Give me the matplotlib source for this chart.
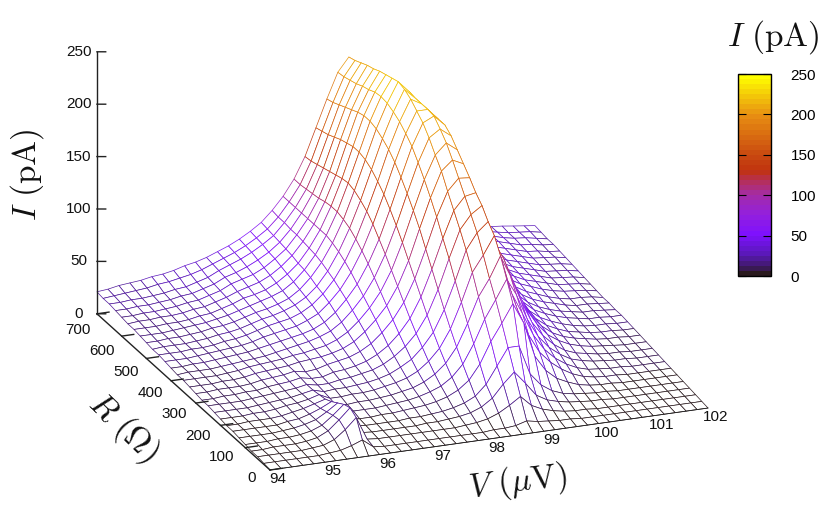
#!/usr/bin/env python3
# wire mesh of current vs voltage and resistance, gnuplot look
import numpy as np
import matplotlib
matplotlib.use('Agg')
import matplotlib.pyplot as plt
from matplotlib.colors import LinearSegmentedColormap, Normalize
from matplotlib.cm import ScalarMappable
from mpl_toolkits.mplot3d import proj3d
from mpl_toolkits.mplot3d.art3d import Poly3DCollection

plt.rcParams['font.family'] = ['Liberation Sans', 'DejaVu Sans']
plt.rcParams['mathtext.fontset'] = 'cm'

# voltage axis, 94 to 102 in 0.2 steps
V_values = [94.0, 94.2, 94.4, 94.6, 94.8, 95.0, 95.2, 95.4, 95.6, 95.8, 96.0, 96.2, 96.4, 96.6,
            96.8, 97.0, 97.2, 97.4, 97.6, 97.8, 98.0, 98.2, 98.4, 98.6, 98.8, 99.0, 99.2, 99.4,
            99.6, 99.8, 100.0, 100.2, 100.4, 100.6, 100.8, 101.0, 101.2, 101.4, 101.6, 101.8, 102.0]
R_values = [0, 25, 50, 75, 100, 125, 150, 175, 200, 225, 250, 275, 300, 325, 350, 375, 400,
            425, 450, 475, 500, 525, 550, 575, 600, 625, 650, 675, 700]

# current (pA) along V, one list per resistance
I_R000 = [0]*41
I_R025 = [1,1,1,1,1,1,2,3,6,10,2,1,1,1,1,1,1,1,1,1,1,2,2,3,6,4,3,2,2,1,1,1,1,1,1,1,1,1,1,1,1]
I_R050 = [2,2,2,2,2,3,4,8,16,26,4,3,3,3,3,3,3,3,3,4,5,7,11,17,24,14,9,6,4,3,3,2,2,2,2,2,2,2,2,2,2]
I_R075 = [2,2,3,3,3,4,6,11,20,30,5,4,4,4,4,4,5,5,6,7,9,13,20,32,42,30,17,11,8,6,5,4,4,3,3,3,3,3,3,3,3]
I_R100 = [3,3,3,4,4,5,7,11,19,28,6,5,5,5,5,6,6,7,8,10,13,18,28,44,60,60,32,20,13,9,7,6,5,5,4,4,4,4,4,4,4]
I_R125 = [4,4,4,4,5,6,8,11,17,24,7,6,6,7,7,8,9,10,12,15,20,28,42,62,78,95,75,42,27,18,13,9,7,6,6,5,5,5,5,5,5]
I_R150 = [5,5,5,5,5,7,8,11,15,20,8,8,8,8,9,10,11,13,16,20,27,38,56,78,95,113,82,57,39,28,20,14,10,8,7,7,6,6,6,6,6]
I_R175 = [5,5,6,6,6,7,9,11,14,17,9,9,10,10,11,12,14,16,20,26,35,49,70,94,110,130,93,72,50,35,25,18,13,10,9,8,8,7,7,7,7]
I_R200 = [6,6,6,7,7,8,10,11,13,16,11,11,12,12,13,15,17,20,25,33,44,61,85,112,127,144,103,85,60,42,30,22,16,13,11,10,9,9,8,8,8]
I_R225 = [7,7,7,7,8,9,10,11,13,15,12,13,13,14,15,17,20,25,31,41,54,74,100,128,143,152,120,98,72,50,36,26,19,15,13,11,10,10,9,9,9]
I_R250 = [8,8,8,8,9,10,11,12,13,15,13,13,15,16,18,20,24,30,38,49,65,88,116,142,155,162,128,108,82,58,42,30,23,18,15,13,12,11,10,10,10]
I_R275 = [8,8,9,9,10,10,12,13,14,16,14,14,17,18,20,23,28,35,45,58,77,102,130,155,167,169,136,112,86,62,45,33,25,20,17,15,13,12,12,11,11]
I_R300 = [9,9,10,10,10,11,13,14,15,17,15,16,19,21,23,27,33,42,53,68,89,116,145,168,179,178,146,118,90,65,48,35,27,22,18,16,14,13,13,12,12]
I_R325 = [10,10,10,11,11,12,14,15,16,17,19,20,21,23,26,31,39,49,61,78,101,130,158,182,191,186,152,122,94,68,50,37,29,24,20,17,15,14,14,13,13]
I_R350 = [11,11,11,11,12,13,15,16,17,18,20,21,23,25,29,35,44,55,69,88,113,142,170,192,202,194,158,126,98,72,53,40,31,26,22,19,17,15,15,14,14]
I_R375 = [11,12,12,12,13,14,15,16,17,19,21,23,25,28,32,39,49,61,77,98,124,153,181,203,210,202,163,130,100,74,55,42,33,27,23,20,18,16,16,15,14]
I_R400 = [12,12,13,13,14,15,16,17,19,21,23,25,27,30,35,43,54,67,85,107,134,163,191,212,217,207,166,132,102,76,57,44,35,29,25,22,19,17,17,16,15]
I_R425 = [13,13,13,14,15,16,17,18,20,23,25,27,29,33,38,47,58,73,92,116,143,172,198,218,218,207,168,134,104,78,59,46,37,31,27,23,20,18,18,17,15]
I_R450 = [14,14,14,15,15,16,18,19,21,24,27,29,31,35,41,50,62,78,98,123,150,179,204,224,218,207,168,136,106,80,61,48,39,33,29,25,22,20,19,18,16]
I_R475 = [14,15,15,15,16,17,19,20,22,25,28,30,33,37,43,52,65,82,103,128,156,184,208,228,218,207,168,136,108,82,63,50,41,35,30,27,24,21,20,19,17]
I_R500 = [15,15,16,16,17,18,20,21,23,26,29,31,34,38,45,55,68,85,106,132,160,188,211,230,219,206,168,136,108,84,65,52,43,36,31,28,25,22,21,20,18]
I_R525 = [16,16,16,17,18,19,20,22,24,27,30,33,36,40,47,57,70,87,108,134,162,190,212,228,218,204,168,137,107,84,66,53,44,37,32,29,26,23,22,21,19]
I_R550 = [17,17,17,18,18,19,21,22,25,28,32,34,37,42,49,58,71,87,108,133,162,190,211,226,217,199,165,135,106,84,66,54,45,38,33,30,27,24,23,22,20]
I_R575 = [17,18,18,19,19,20,22,23,26,29,33,36,39,44,51,60,72,87,107,131,160,188,208,224,214,194,160,132,104,83,66,55,46,39,34,31,28,25,24,23,21]
I_R600 = [18,18,19,19,20,21,23,24,27,30,35,38,41,46,53,61,73,87,105,129,158,185,206,221,210,188,155,128,101,82,65,55,46,40,35,32,29,26,25,23,22]
I_R625 = [19,19,20,20,21,22,24,25,28,31,36,39,43,48,54,62,73,87,104,127,155,182,203,219,207,180,150,124,98,80,64,54,46,40,36,33,30,27,26,24,23]
I_R650 = [20,20,21,21,22,23,25,26,29,32,37,41,45,50,56,63,74,87,103,125,152,179,201,216,203,170,142,118,92,76,60,52,44,40,36,33,30,28,27,25,23]
I_R675 = [20,21,22,23,24,26,27,29,31,34,38,42,46,51,57,64,74,87,102,123,150,176,199,213,199,160,130,105,84,68,54,47,41,37,34,32,30,28,27,26,24]
I_R700 = [21,22,24,25,26,28,29,31,34,36,39,43,47,52,58,65,75,87,102,122,148,174,198,211,195,150,120,95,75,60,48,42,38,35,33,31,30,29,27.6,26.3,25]

V_ticks = [94, 95, 96, 97, 98, 99, 100, 101, 102]
R_ticks = [0, 100, 200, 300, 400, 500, 600, 700]
I_ticks = [0, 50, 100, 150, 200, 250]

W, H = 830, 509
fig = plt.figure(figsize=(W/100, H/100), dpi=100)

# palette, dark - violet - red - yellow
stops = [(0.0, '#2a1a1e'), (0.035, '#3f1a66'), (0.1, '#5a18b8'), (0.2, '#7e10ff'), (0.3, '#9420dc'),
         (0.4, '#a42ca4'), (0.48, '#b8304c'), (0.52, '#c0320f'), (0.6, '#c84810'), (0.8, '#e88e12'),
         (1.0, '#ffff00')]
cmap = LinearSegmentedColormap.from_list('gp', stops, N=40)
norm = Normalize(0, 250)

ax = fig.add_axes([0, 0, 1, 1], projection='3d', proj_type='ortho')
ax.set_axis_off()
ax.patch.set_visible(False)
ax.computed_zorder = False
ax.set_xlim(94, 102)
ax.set_ylim(0, 700)
ax.set_zlim(0, 250)
ax.set_box_aspect((471, 470, 280.5))
ax.view_init(elev=20.94, azim=-111.6)

I_grid = np.array([I_R000, I_R025, I_R050, I_R075, I_R100, I_R125, I_R150, I_R175, I_R200, I_R225,
                   I_R250, I_R275, I_R300, I_R325, I_R350, I_R375, I_R400, I_R425, I_R450, I_R475,
                   I_R500, I_R525, I_R550, I_R575, I_R600, I_R625, I_R650, I_R675, I_R700], dtype=float)

verts = []
cols = []
for i in range(len(R_values)-1):
    for j in range(len(V_values)-1):
        quad = [(V_values[j], R_values[i], I_grid[i, j]),
                (V_values[j+1], R_values[i], I_grid[i, j+1]),
                (V_values[j+1], R_values[i+1], I_grid[i+1, j+1]),
                (V_values[j], R_values[i+1], I_grid[i+1, j])]
        verts.append(quad)
        cols.append(cmap(norm(np.mean([q[2] for q in quad]))))
mesh = Poly3DCollection(verts, facecolors='white', edgecolors=cols, linewidths=0.5, zorder=1)
ax.add_collection3d(mesh)

# the frame: z axis, R axis, V axis with gnuplot style ticks
ax.plot([94, 94], [700, 700], [0, 250], color='#222222', lw=1.0, zorder=3)
ax.plot([94, 94], [700, 0], [0, 0], color='#222222', lw=1.0, zorder=3)
ax.plot([94, 102], [0, 0], [0, 0], color='#222222', lw=0.6, zorder=3)
for z in I_ticks:
    ax.plot([94, 94.16], [700, 700], [z, z-1.2], color='#222222', lw=1.0, zorder=3)
for r in R_ticks:
    ax.plot([94, 94.22], [r, r], [0, 0], color='#222222', lw=1.0, zorder=3)


def to_px(v, r, z):
    xs, ys, _ = proj3d.proj_transform(v, r, z, ax.get_proj())
    return ax.transData.transform((xs, ys))


# scale and shift the axes box so the corners land where they should
size = 1000.0
left, bottom = (W-size)/2, (H-size)/2
for k in range(3):
    ax.set_position([left/W, bottom/H, size/W, size/H])
    ax.apply_aspect()
    a = to_px(94, 0, 0)
    b = to_px(102, 0, 0)
    size = size*438.0/(b[0]-a[0])
    ax.set_position([left/W, bottom/H, size/W, size/H])
    ax.apply_aspect()
    a = to_px(94, 0, 0)
    left += 270-a[0]
    bottom += (H-470)-a[1]
ax.set_position([left/W, bottom/H, size/W, size/H])
ax.apply_aspect()

# tick labels, placed in figure pixels next to the projected ticks
for z in I_ticks:
    p = to_px(94, 700, z)
    fig.text(79/W, p[1]/H, str(z), ha='center', va='center', fontsize=11, color='#111111')
for r in R_ticks:
    p = to_px(94, r, 0)
    dx = -18 if r == 0 else -24 + r*5/700
    dy = -8 - r*8/700
    fig.text((p[0]+dx)/W, (p[1]+dy)/H, str(r), ha='center', va='center', fontsize=11, color='#111111')
for v in V_ticks:
    p = to_px(v, 0, 0)
    fig.text((p[0]+8)/W, (p[1]-9)/H, str(v), ha='center', va='center', fontsize=11, color='#111111')

# axis titles
fig.text(773/W, 1-37/H, r'$I\ (\mathrm{pA})$', fontsize=24, ha='center', va='center', color='#111111')
fig.text(27/W, 1-175/H, r'$I\ (\mathrm{pA})$', fontsize=24, rotation=90, ha='center', va='center', color='#111111')
fig.text(123/W, 1-427/H, r'$R\ (\Omega)$', fontsize=24, rotation=-44, ha='center', va='center', color='#111111')
fig.text(518/W, 1-482/H, r'$V\ (\mu\mathrm{V})$', fontsize=24, rotation=7, ha='center', va='center', color='#111111')

# colour box
cax = fig.add_axes([738/W, 1-276/H, 33/W, 202/H])
cb = fig.colorbar(ScalarMappable(norm=norm, cmap=cmap), cax=cax, ticks=I_ticks)
cb.outline.set_linewidth(1.0)
cax.tick_params(axis='y', direction='in', length=6, width=0.8, left=True, right=True, labelsize=11, pad=14)

fig.savefig('out.png', dpi=100)
